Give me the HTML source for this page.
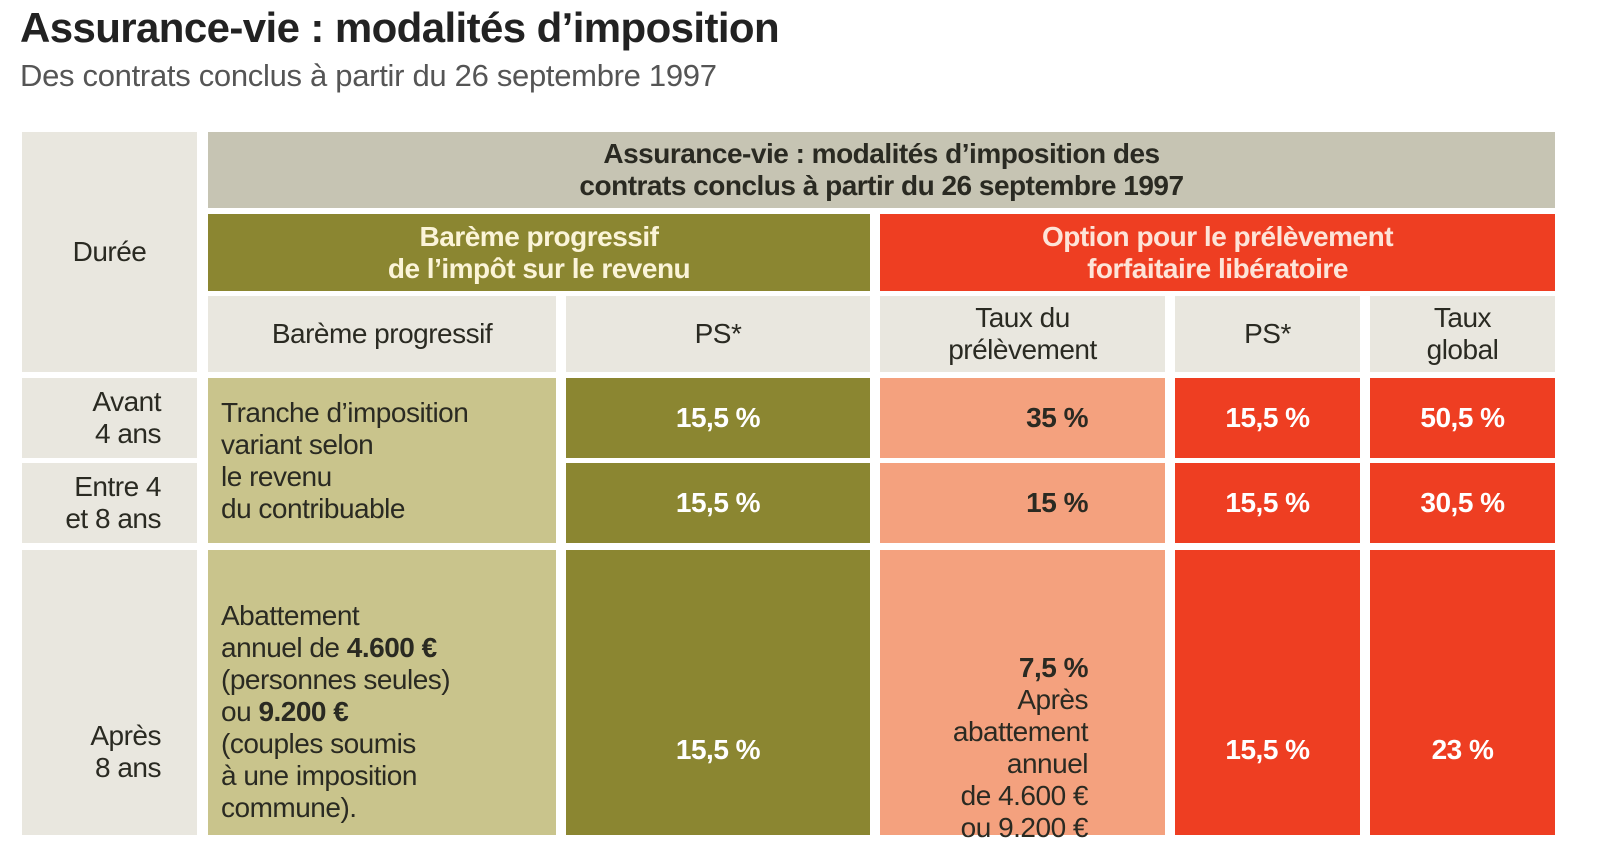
<!DOCTYPE html>
<html><head><meta charset="utf-8"><style>
body{margin:0;width:1600px;height:835px;overflow:hidden;background:#fff;font-family:"Liberation Sans",sans-serif;position:relative;color:#2a2a22}
.a{position:absolute;box-sizing:border-box;display:flex;align-items:center;justify-content:center;text-align:center;font-size:28px;line-height:32px;letter-spacing:-0.5px}
.g{background:#e9e7df}.h{background:#c6c4b3}.o{background:#8b8631;color:#fff;font-weight:bold}.r{background:#ee3e22;color:#fff;font-weight:bold}.s{background:#f4a17e}.k{background:#c9c48c}
</style></head><body>
<div style="position:absolute;left:20px;top:4px;font-size:42px;font-weight:bold;letter-spacing:-0.6px;color:#222">Assurance-vie : modalités d’imposition</div>
<div style="position:absolute;left:20px;top:58px;font-size:31px;color:#555;letter-spacing:-0.3px">Des contrats conclus à partir du 26 septembre 1997</div>

<div class="a g" style="left:22px;top:132px;width:175px;height:240px"><div>Durée</div></div>
<div class="a h" style="left:208px;top:132px;width:1347px;height:76px;font-weight:bold"><div>Assurance-vie : modalités d’imposition des<br>contrats conclus à partir du 26 septembre 1997</div></div>
<div class="a o" style="left:208px;top:214px;width:662px;height:77px;color:#fbf4d8"><div>Barème progressif<br>de l’impôt sur le revenu</div></div>
<div class="a r" style="left:880px;top:214px;width:675px;height:77px;color:#fde4d8"><div>Option pour le prélèvement<br>forfaitaire libératoire</div></div>
<div class="a g" style="left:208px;top:296px;width:348px;height:76px"><div>Barème progressif</div></div>
<div class="a g" style="left:566px;top:296px;width:304px;height:76px"><div>PS*</div></div>
<div class="a g" style="left:880px;top:296px;width:285px;height:76px"><div>Taux du<br>prélèvement</div></div>
<div class="a g" style="left:1175px;top:296px;width:185px;height:76px"><div>PS*</div></div>
<div class="a g" style="left:1370px;top:296px;width:185px;height:76px"><div>Taux<br>global</div></div>

<div class="a g" style="left:22px;top:378px;width:175px;height:80px;justify-content:flex-end;padding-right:36px;text-align:right"><div>Avant<br>4 ans</div></div>
<div class="a g" style="left:22px;top:463px;width:175px;height:80px;justify-content:flex-end;padding-right:36px;text-align:right"><div>Entre 4<br>et 8 ans</div></div>
<div class="a g" style="left:22px;top:550px;width:175px;height:285px;justify-content:flex-end;align-items:flex-start;padding-top:170px;padding-right:36px;text-align:right"><div>Après<br>8 ans</div></div>

<div class="a k" style="left:208px;top:378px;width:348px;height:165px;justify-content:flex-start;text-align:left;padding-left:13px"><div>Tranche d’imposition<br>variant selon<br>le revenu<br>du contribuable</div></div>
<div class="a k" style="left:208px;top:550px;width:348px;height:285px;justify-content:flex-start;align-items:flex-start;text-align:left;padding-left:13px;padding-top:50px"><div>Abattement<br>annuel de <b>4.600 €</b><br>(personnes seules)<br>ou <b>9.200 €</b><br>(couples soumis<br>à une imposition<br>commune).</div></div>

<div class="a o" style="left:566px;top:378px;width:304px;height:80px"><div>15,5 %</div></div>
<div class="a o" style="left:566px;top:463px;width:304px;height:80px"><div>15,5 %</div></div>
<div class="a o" style="left:566px;top:550px;width:304px;height:285px;padding-top:184px;align-items:flex-start"><div>15,5 %</div></div>

<div class="a s" style="left:880px;top:378px;width:285px;height:80px;justify-content:flex-end;padding-right:77px;font-weight:bold"><div>35 %</div></div>
<div class="a s" style="left:880px;top:463px;width:285px;height:80px;justify-content:flex-end;padding-right:77px;font-weight:bold"><div>15 %</div></div>
<div class="a s" style="left:880px;top:550px;width:285px;height:285px;justify-content:flex-end;align-items:flex-start;padding-right:77px;padding-top:102px;text-align:right"><div><b>7,5 %</b><br>Après<br>abattement<br>annuel<br>de 4.600 €<br>ou 9.200 €</div></div>

<div class="a r" style="left:1175px;top:378px;width:185px;height:80px"><div>15,5 %</div></div>
<div class="a r" style="left:1175px;top:463px;width:185px;height:80px"><div>15,5 %</div></div>
<div class="a r" style="left:1175px;top:550px;width:185px;height:285px;padding-top:184px;align-items:flex-start"><div>15,5 %</div></div>
<div class="a r" style="left:1370px;top:378px;width:185px;height:80px"><div>50,5 %</div></div>
<div class="a r" style="left:1370px;top:463px;width:185px;height:80px"><div>30,5 %</div></div>
<div class="a r" style="left:1370px;top:550px;width:185px;height:285px;padding-top:184px;align-items:flex-start"><div>23 %</div></div>
</body></html>
